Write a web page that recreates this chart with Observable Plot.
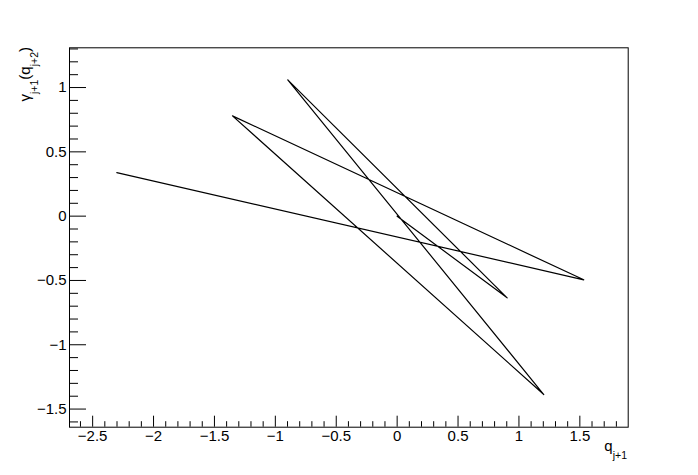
<!DOCTYPE html>
<html>
<head>
<meta charset="utf-8">
<script src="https://cdn.jsdelivr.net/npm/d3@7"></script>
<script src="https://cdn.jsdelivr.net/npm/@observablehq/plot@0.6"></script>
<style>
  html, body { margin: 0; padding: 0; background: #fff; }
  #chart svg { display: block; }
</style>
</head>
<body>
<div id="chart"></div>
<script>
// Data: polyline vertices (q_{j+1}, gamma_{j+1}(q_{j+2}))
const qValues     = [0.0, 0.903, -0.898, 1.204, -1.352, 1.532, -2.302];
const gammaValues = [0.0, -0.635, 1.060, -1.387, 0.780, -0.495, 0.339];

// Axis ticks
const xMajorTicks = [-2.5, -2, -1.5, -1, -0.5, 0, 0.5, 1, 1.5];
const yMajorTicks = [-1.5, -1, -0.5, 0, 0.5, 1];
const xDomain = [-2.69, 1.897];
const yDomain = [-1.641, 1.309];

const W = 698, H = 475;
const mL = 69, mR = 70.3, mT = 47.3, mB = 48.3;
const innerW = W - mL - mR, innerH = H - mT - mB;

const isMajor = (v, majors) => majors.some(m => Math.abs(m - v) < 1e-6);
const xMinorTicks = d3.range(-26, 19).map(i => i / 10).filter(v => !isMajor(v, xMajorTicks));
const yMinorTicks = d3.range(-16, 14).map(i => i / 10).filter(v => !isMajor(v, yMajorTicks));

const fmt = d => String(d).replace("-", "\u2212");
const points = qValues.map((q, i) => ({q, g: gammaValues[i]}));

const plot = Plot.plot({
  width: W,
  height: H,
  marginLeft: mL,
  marginRight: mR,
  marginTop: mT,
  marginBottom: mB,
  x: {domain: xDomain, axis: null},
  y: {domain: yDomain, axis: null},
  style: {fontFamily: "'Liberation Sans', Arial, Helvetica, sans-serif", fontSize: "15px", background: "#fff", color: "#000"},
  marks: [
    Plot.line(points, {x: "q", y: "g", stroke: "#000", strokeWidth: 1.2, curve: "linear"}),
    // x ticks (inward, along bottom)
    Plot.tickX(xMajorTicks, {x: d => d, stroke: "#000", strokeWidth: 1, insetTop: innerH - 11}),
    Plot.tickX(xMinorTicks, {x: d => d, stroke: "#000", strokeWidth: 1, insetTop: innerH - 5.5}),
    // y ticks (inward, along left)
    Plot.tickY(yMajorTicks, {y: d => d, stroke: "#000", strokeWidth: 1, insetRight: innerW - 17}),
    Plot.tickY(yMinorTicks, {y: d => d, stroke: "#000", strokeWidth: 1, insetRight: innerW - 9}),
    // tick labels
    Plot.text(xMajorTicks, {x: d => d, text: fmt, frameAnchor: "bottom", lineAnchor: "top", dy: 3, fontSize: 15, fill: "#000"}),
    Plot.text(yMajorTicks, {y: d => d, text: fmt, frameAnchor: "left", textAnchor: "end", lineAnchor: "middle", dx: -3, fontSize: 15, fill: "#000"}),
    Plot.frame({stroke: "#000", strokeWidth: 1})
  ]
});

document.getElementById("chart").appendChild(plot);

// Axis titles with subscripts
const svg = d3.select(plot);
const font = "'Liberation Sans', Arial, Helvetica, sans-serif";

const xt = svg.append("text")
  .attr("x", 627).attr("y", 451)
  .attr("text-anchor", "end")
  .attr("font-family", font)
  .attr("font-size", 15)
  .attr("fill", "#000");
xt.append("tspan").text("q");
xt.append("tspan").attr("dy", 8).attr("font-size", 10.5).text("j+1");

const yt = svg.append("text")
  .attr("transform", "translate(30,47) rotate(-90)")
  .attr("text-anchor", "end")
  .attr("font-family", font)
  .attr("font-size", 15)
  .attr("fill", "#000");
yt.append("tspan").text("\u03b3");
yt.append("tspan").attr("dy", 8).attr("font-size", 10.5).text("j+1");
yt.append("tspan").attr("dy", -8).text("(q");
yt.append("tspan").attr("dy", 8).attr("font-size", 10.5).text("j+2");
yt.append("tspan").attr("dy", -8).text(")");
</script>
</body>
</html>
